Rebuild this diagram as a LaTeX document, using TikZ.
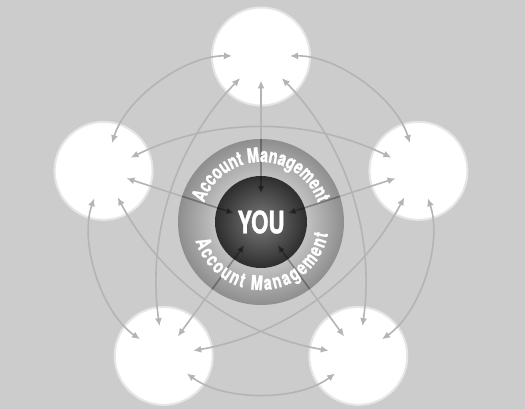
\documentclass[tikz,border=0pt]{standalone}
\usepackage{fontspec}
\newfontfamily\ringfont[FakeStretch=0.72, BoldFeatures={FakeBold=1.2}]{TeX Gyre Heros}
\newfontfamily\youfont[FakeStretch=0.72, BoldFeatures={FakeBold=1.2}]{TeX Gyre Heros}
\usetikzlibrary{arrows.meta,decorations.text,calc}
\definecolor{backgray}{HTML}{CCCCCC}
\definecolor{linkgray}{HTML}{B4B4B4}
\definecolor{ringgray}{HTML}{8E8E8E}
\definecolor{youlight}{HTML}{7A7A7A}
\definecolor{youdark}{HTML}{2E2E2E}
\definecolor{bubbleedge}{HTML}{E6E6E6}
\begin{document}
\begin{tikzpicture}[
                x=1pt, y=1pt,
                bubble/.style={circle, fill=white, draw=bubbleedge, line width=2pt, minimum size=98pt, inner sep=0pt},
                link/.style={draw=linkgray, line width=1.6pt, {Latex[length=8pt,width=7pt]}-{Latex[length=8pt,width=7pt]}},
                spoke/.style={link, shorten <=24pt, shorten >=28pt},
                side/.style={link, shorten <=29pt, shorten >=29pt, bend right=37},
                cross/.style={link, shorten <=30pt, shorten >=30pt, bend right=26},
                youball/.style={circle, minimum size=92pt, inner sep=0pt, inner color=youlight, outer color=youdark, text=white, font=\youfont\bfseries\fontsize{31}{31}\selectfont},
                ringtext/.style={decorate, decoration={text along path, text align=#1, text={|\ringfont\bfseries\fontsize{20}{20}\selectfont\color{white}|Account Management}}}
            ]
            \useasboundingbox (-261,-187) rectangle (264,222);
            \fill[backgray] (-261,-187) rectangle (264,222);
            \coordinate (mid) at (0,0);
            \foreach \name/\ang in {top/90, left/162, right/18, botleft/234, botright/306}
                \node[bubble] (\name) at (\ang:165.5) {};
            % spokes to the centre
            \foreach \name in {top, left, right, botleft, botright}
                \draw[spoke] (\name.center) -- (mid);
            % neighbours
            \draw[side] (top.center) to (left.center);
            \draw[side] (left.center) to (botleft.center);
            \draw[side] (botleft.center) to (botright.center);
            \draw[side] (botright.center) to (right.center);
            \draw[side] (right.center) to (top.center);
            % across
            \draw[cross] (top.center) to (botleft.center);
            \draw[cross] (left.center) to (botright.center);
            \draw[cross] (botleft.center) to (right.center);
            \draw[cross] (botright.center) to (top.center);
            \draw[cross] (right.center) to (left.center);
            \shade[inner color=white, outer color=ringgray] (mid) circle (83);
            \node[youball] (you) at (mid) {YOU};
            \begin{scope}
                \clip (mid) circle (83);
                \foreach \name in {top, left, right, botleft, botright}
                    \draw[spoke, blend mode=multiply] (\name.center) -- (mid);
            \end{scope}
            \path[ringtext=center] ($(mid)+(163:60)$) arc[start angle=163, end angle=17, radius=60];
            \path[ringtext=fit to path] ($(mid)+(196:68)$) arc[start angle=196, end angle=350, radius=68];
        \end{tikzpicture}
\end{document}
